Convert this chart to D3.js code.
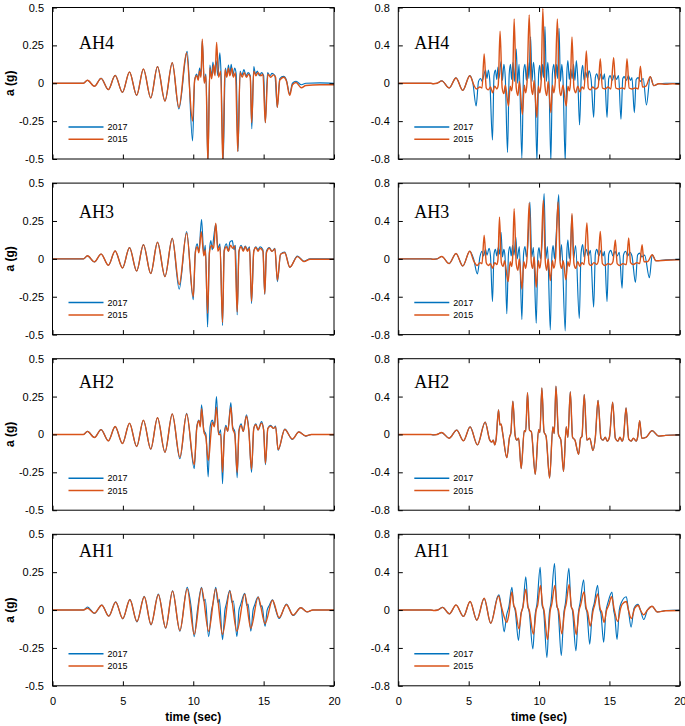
<!DOCTYPE html>
<html><head><meta charset="utf-8">
<script src="https://cdn.jsdelivr.net/npm/d3@7"></script>
<style>
body{margin:0;background:#fff;}
svg{display:block;}
text{fill:#000;}
</style>
</head><body>
<svg id="c" width="685" height="726"></svg>
<script>
// ---------------- DATA ----------------
const timeTicks = [0, 5, 10, 15, 20];
const leftTicks = [-0.5, -0.25, 0, 0.25, 0.5];
const leftTickLabels = ["-0.5", "-0.25", "0", "0.25", "0.5"];
const rightTicks = [-0.8, -0.4, 0, 0.4, 0.8];
const rightTickLabels = ["-0.8", "-0.4", "0", "0.4", "0.8"];
const years = ["2017", "2015"];
const stations = ["AH4", "AH3", "AH2", "AH1"];

// [time (sec), a (g)]
const leftOnset = [[0,0],[2.2,0],[2.48,0.02],[2.98,-0.02],[3.45,0.032],[3.97,-0.042],[4.45,0.052],[4.97,-0.06],[5.47,0.074],[5.98,-0.08],[6.46,0.094],[6.98,-0.097],[7.46,0.11],[7.99,-0.117],[8.51,0.135]];

const ah4Left2017 = leftOnset.concat([[8.98,-0.17],[9.5,0.19],[9.57,0.21],[9.95,-0.38],[10.1,0.02],[10.24,0.06],[10.35,0.03],[10.45,0.1],[10.55,0.05],[10.64,0.28],[10.78,0.01],[10.9,0.06],[11.04,-0.53],[11.18,0.12],[11.3,0.04],[11.4,0.14],[11.5,0.06],[11.62,0.15],[11.75,0.05],[11.89,0.2],[11.98,0.05],[12.12,-0.53],[12.28,0.1],[12.4,0.05],[12.5,0.12],[12.6,0.06],[12.7,0.125],[12.8,0.05],[12.95,0.1],[13.05,0.06],[13.18,-0.45],[13.33,0.08],[13.45,0.05],[13.6,0.09],[13.75,0.05],[13.9,0.07],[14.05,0.05],[14.16,-0.3],[14.3,0.11],[14.42,0.06],[14.55,0.08],[14.7,0.05],[14.85,0.07],[15.0,0.05],[15.12,-0.26],[15.28,0.07],[15.45,0.05],[15.6,0.065],[15.8,0.05],[15.97,-0.16],[16.15,0.03],[16.42,0.045],[16.62,0.02],[16.85,-0.07],[17.05,0.0],[17.3,0.013],[17.68,-0.01],[18.0,0.0],[19.0,0.002],[20,0]]);
const ah4Left2015 = leftOnset.concat([[8.98,-0.16],[9.52,0.2],[9.95,-0.25],[10.1,0.02],[10.24,0.05],[10.35,0.02],[10.45,0.08],[10.55,0.04],[10.64,0.29],[10.78,0.0],[10.9,0.05],[11.04,-0.53],[11.18,0.1],[11.3,0.03],[11.45,0.12],[11.55,0.05],[11.66,0.27],[11.8,0.04],[11.95,0.08],[12.1,-0.53],[12.25,0.09],[12.38,0.04],[12.5,0.1],[12.6,0.05],[12.75,0.1],[12.85,0.04],[13.0,0.07],[13.16,-0.45],[13.33,0.07],[13.48,0.04],[13.62,0.07],[13.78,0.04],[13.93,0.06],[14.05,0.04],[14.15,-0.26],[14.3,0.08],[14.45,0.05],[14.6,0.07],[14.8,0.05],[14.95,0.06],[15.12,-0.26],[15.3,0.06],[15.5,0.04],[15.7,0.055],[15.85,0.04],[15.97,-0.16],[16.15,0.02],[16.42,0.04],[16.62,0.015],[16.85,-0.08],[17.05,-0.01],[17.3,0.005],[17.68,-0.03],[18.0,-0.015],[19.0,-0.01],[20,-0.01]]);

const ah3Left2017 = leftOnset.concat([[9.0,-0.2],[9.53,0.18],[10.0,-0.27],[10.15,0.05],[10.28,0.1],[10.4,0.05],[10.59,0.26],[10.75,0.03],[10.86,0.09],[11.02,-0.45],[11.15,0.05],[11.25,0.12],[11.35,0.06],[11.45,0.14],[11.6,0.23],[11.75,0.07],[11.9,0.1],[12.08,-0.44],[12.2,0.06],[12.35,0.1],[12.5,0.05],[12.6,0.11],[12.77,0.12],[12.9,0.06],[13.0,0.09],[13.12,-0.37],[13.25,0.05],[13.4,0.09],[13.55,0.06],[13.7,0.085],[13.85,0.06],[14.0,0.08],[14.14,-0.295],[14.3,0.05],[14.45,0.08],[14.6,0.06],[14.75,0.08],[14.95,0.06],[15.08,-0.235],[15.2,0.05],[15.4,0.075],[15.6,0.05],[15.8,0.07],[15.98,-0.15],[16.2,0.03],[16.5,0.045],[16.86,-0.055],[17.4,0.018],[17.87,-0.016],[18.3,0],[20,0]]);
const ah3Left2015 = leftOnset.concat([[9.0,-0.17],[9.53,0.17],[10.0,-0.25],[10.15,0.04],[10.28,0.08],[10.4,0.04],[10.57,0.18],[10.75,0.02],[10.86,0.06],[11.02,-0.36],[11.15,0.04],[11.3,0.09],[11.45,0.07],[11.6,0.235],[11.75,0.05],[11.9,0.08],[12.08,-0.42],[12.2,0.05],[12.35,0.08],[12.5,0.05],[12.65,0.09],[12.8,0.07],[12.95,0.085],[13.12,-0.35],[13.25,0.05],[13.4,0.08],[13.55,0.05],[13.7,0.08],[13.85,0.05],[14.0,0.07],[14.14,-0.28],[14.3,0.05],[14.45,0.075],[14.6,0.05],[14.75,0.07],[14.95,0.05],[15.08,-0.23],[15.2,0.04],[15.4,0.07],[15.6,0.05],[15.8,0.065],[15.98,-0.14],[16.2,0.03],[16.5,0.04],[16.86,-0.055],[17.4,0.015],[17.87,-0.018],[18.3,-0.003],[20,-0.003]]);

const ah2Left2017 = leftOnset.concat([[9.05,-0.16],[9.53,0.14],[10.07,-0.225],[10.25,0.05],[10.4,0.095],[10.5,0.06],[10.59,0.195],[10.75,0.03],[10.9,0.0],[11.06,-0.28],[11.2,0.05],[11.35,0.095],[11.5,0.06],[11.65,0.25],[11.8,0.0],[11.95,0.03],[12.08,-0.325],[12.2,0.0],[12.32,0.06],[12.45,0.02],[12.67,0.21],[12.8,0.05],[12.95,0.02],[13.12,-0.285],[13.25,0.03],[13.4,0.07],[13.55,0.02],[13.78,0.13],[13.95,0.03],[14.14,-0.25],[14.3,0.04],[14.45,0.07],[14.6,0.03],[14.85,0.085],[15.0,0.03],[15.13,-0.2],[15.3,0.04],[15.5,0.06],[15.7,0.04],[15.85,0.055],[16.03,-0.105],[16.5,0.035],[17.04,-0.033],[17.5,0.018],[17.99,-0.011],[18.4,0],[20,0]]);
const ah2Left2015 = leftOnset.concat([[9.05,-0.15],[9.53,0.135],[10.07,-0.2],[10.25,0.04],[10.4,0.09],[10.5,0.05],[10.59,0.17],[10.75,0.02],[10.9,-0.02],[11.06,-0.17],[11.15,-0.12],[11.25,0.0],[11.35,0.08],[11.5,0.05],[11.65,0.18],[11.8,0.0],[11.95,0.0],[12.08,-0.25],[12.2,-0.02],[12.32,0.05],[12.45,0.02],[12.67,0.18],[12.8,0.04],[12.95,0.0],[13.12,-0.25],[13.25,0.02],[13.4,0.06],[13.55,0.02],[13.78,0.12],[13.95,0.02],[14.14,-0.23],[14.3,0.04],[14.45,0.065],[14.6,0.03],[14.85,0.075],[15.0,0.03],[15.13,-0.19],[15.3,0.04],[15.5,0.055],[15.7,0.04],[15.85,0.05],[16.03,-0.1],[16.5,0.033],[17.04,-0.03],[17.5,0.016],[17.99,-0.01],[18.4,0],[20,0]]);

const ah1Left2017 = [[0,0],[2.2,0],[2.48,0.02],[2.98,-0.022],[3.5,0.033],[4.0,-0.04],[4.49,0.054],[4.99,-0.058],[5.5,0.07],[6.0,-0.078],[6.52,0.09],[7.0,-0.098],[7.52,0.105],[8.04,-0.12],[8.53,0.127],[9.05,-0.14],[9.57,0.15],[9.85,0.02],[10.07,-0.175],[10.3,0.0],[10.59,0.15],[10.75,0.06],[10.85,0.07],[11.09,-0.175],[11.3,0.0],[11.4,0.04],[11.6,0.15],[11.75,0.05],[11.85,0.07],[12.08,-0.195],[12.25,0.0],[12.35,0.04],[12.6,0.13],[12.75,0.05],[12.85,0.06],[13.1,-0.175],[13.25,0.0],[13.35,0.03],[13.66,0.11],[13.8,0.03],[13.9,0.04],[14.09,-0.14],[14.25,0.0],[14.35,0.03],[14.61,0.087],[14.8,0.02],[14.88,0.03],[15.1,-0.107],[15.25,0.0],[15.4,0.03],[15.63,0.067],[15.8,0.02],[16.1,-0.056],[16.62,0.04],[17.09,-0.036],[17.64,0.016],[18.09,-0.013],[18.5,0],[20,0]];
const ah1Left2015 = [[0,0],[2.2,0],[2.48,0.012],[2.98,-0.02],[3.5,0.032],[4.0,-0.04],[4.49,0.052],[4.99,-0.056],[5.5,0.068],[6.0,-0.076],[6.52,0.088],[7.0,-0.095],[7.52,0.102],[8.04,-0.117],[8.53,0.125],[9.05,-0.135],[9.57,0.14],[10.07,-0.16],[10.59,0.145],[11.09,-0.14],[11.6,0.14],[12.08,-0.16],[12.6,0.125],[13.1,-0.14],[13.66,0.105],[14.09,-0.12],[14.61,0.085],[15.1,-0.09],[15.63,0.065],[16.1,-0.05],[16.62,0.035],[17.09,-0.033],[17.64,0.015],[18.09,-0.012],[18.5,0],[20,0]];

const rightOnset = [[0,0],[2.3,0],[2.49,-0.005],[2.75,0],[3.09,0.025],[3.61,-0.05],[4.1,0.056],[4.58,-0.075],[5.08,0.08]];

const ah4Right2017 = rightOnset.concat([[5.3,0.0],[5.53,-0.24],[5.7,0.02],[5.85,0.05],[5.95,0.02],[6.1,0.1],[6.2,0.14],[6.3,0.05],[6.4,0.14],[6.5,0.03],[6.69,-0.6],[6.8,0.08],[6.9,0.14],[7.0,0.04],[7.08,0.17],[7.15,0.05],[7.3,0.23],[7.4,0.03],[7.5,0.2],[7.6,0.06],[7.76,-0.73],[7.88,0.1],[7.97,0.2],[8.05,0.04],[8.15,0.22],[8.25,0.02],[8.38,0.36],[8.48,0.0],[8.58,0.2],[8.78,-0.79],[8.9,0.12],[9.0,0.2],[9.1,0.03],[9.2,0.22],[9.28,0.05],[9.4,0.49],[9.5,0.02],[9.6,0.22],[9.7,0.05],[9.85,-0.82],[9.97,0.1],[10.05,0.19],[10.15,0.03],[10.25,0.2],[10.32,0.06],[10.42,0.6],[10.52,0.02],[10.62,0.22],[10.7,0.05],[10.84,-0.82],[10.95,0.1],[11.05,0.2],[11.15,0.04],[11.25,0.2],[11.32,0.05],[11.42,0.58],[11.52,0.02],[11.62,0.2],[11.7,0.05],[11.86,-0.82],[11.97,0.1],[12.05,0.24],[12.15,0.04],[12.25,0.15],[12.35,0.05],[12.45,0.2],[12.55,0.03],[12.65,0.24],[12.75,0.05],[12.88,-0.44],[13.0,0.08],[13.1,0.19],[13.2,0.03],[13.3,0.12],[13.45,0.05],[13.55,0.13],[13.7,0.04],[13.88,-0.36],[14.0,0.06],[14.1,0.1],[14.25,0.03],[14.4,0.1],[14.55,0.04],[14.65,0.1],[14.83,-0.36],[14.95,0.05],[15.05,0.08],[15.2,0.03],[15.35,0.09],[15.5,0.04],[15.65,0.08],[15.82,-0.38],[15.95,0.05],[16.05,0.07],[16.2,0.03],[16.35,0.08],[16.5,0.03],[16.6,0.06],[16.77,-0.31],[16.9,0.04],[17.05,0.06],[17.2,0.02],[17.4,0.05],[17.63,-0.23],[17.9,0.07],[18.15,-0.025],[18.5,-0.005],[19,0],[20,0]]);
const ah4Right2015 = rightOnset.concat([[5.4,-0.03],[5.55,-0.06],[5.8,-0.04],[5.95,-0.05],[6.1,0.31],[6.25,-0.05],[6.4,-0.07],[6.55,-0.04],[6.7,-0.1],[6.85,-0.03],[7.0,-0.06],[7.1,-0.02],[7.23,0.55],[7.38,-0.05],[7.5,-0.11],[7.6,-0.02],[7.83,-0.24],[7.95,-0.03],[8.05,-0.08],[8.12,0.0],[8.23,0.68],[8.38,-0.05],[8.5,-0.13],[8.6,0.02],[8.82,-0.33],[8.95,-0.02],[9.05,-0.1],[9.15,0.02],[9.3,0.72],[9.45,-0.04],[9.55,-0.12],[9.65,0.03],[9.84,-0.36],[9.95,-0.03],[10.05,-0.1],[10.15,0.02],[10.27,0.79],[10.42,-0.03],[10.55,-0.13],[10.65,0.02],[10.84,-0.31],[10.95,-0.02],[11.05,-0.1],[11.15,0.01],[11.3,0.68],[11.45,-0.05],[11.55,-0.13],[11.7,-0.02],[11.93,-0.24],[12.05,-0.03],[12.15,-0.08],[12.22,-0.02],[12.34,0.49],[12.48,-0.05],[12.6,-0.1],[12.75,-0.03],[12.9,-0.09],[13.05,-0.04],[13.2,-0.06],[13.36,0.34],[13.5,-0.05],[13.65,-0.07],[13.8,-0.04],[14.0,-0.06],[14.2,-0.04],[14.35,0.26],[14.5,-0.05],[14.7,-0.06],[14.9,-0.04],[15.1,-0.06],[15.3,0.27],[15.45,-0.05],[15.65,-0.06],[15.9,-0.05],[16.1,-0.06],[16.25,0.26],[16.4,-0.05],[16.6,-0.06],[16.85,-0.05],[17.05,-0.06],[17.2,0.18],[17.35,-0.04],[17.6,-0.03],[17.9,0.07],[18.15,-0.025],[18.5,-0.005],[19,-0.01],[19.5,-0.005],[20,-0.01]]);

const ah3Right2017 = rightOnset.concat([[5.35,0.0],[5.62,-0.16],[5.8,0.02],[5.95,0.08],[6.05,0.03],[6.2,0.1],[6.3,0.04],[6.45,0.11],[6.55,0.03],[6.69,-0.45],[6.8,0.05],[6.9,0.1],[7.0,0.03],[7.1,0.12],[7.2,0.05],[7.3,0.28],[7.4,0.02],[7.5,0.1],[7.58,0.03],[7.71,-0.58],[7.83,0.06],[7.93,0.13],[8.02,0.03],[8.12,0.14],[8.22,0.04],[8.35,0.23],[8.45,0.0],[8.6,0.13],[8.78,-0.64],[8.9,0.05],[9.0,0.13],[9.1,0.02],[9.2,0.14],[9.35,0.6],[9.48,0.02],[9.6,0.12],[9.8,-0.68],[9.92,0.05],[10.0,0.12],[10.1,0.0],[10.2,0.14],[10.36,0.69],[10.48,0.0],[10.6,0.13],[10.8,-0.75],[10.92,0.05],[11.0,0.14],[11.1,0.0],[11.2,0.2],[11.4,0.68],[11.5,-0.02],[11.6,0.15],[11.86,-0.76],[11.97,0.05],[12.05,0.2],[12.15,0.0],[12.25,0.16],[12.34,0.46],[12.45,0.0],[12.6,0.14],[12.86,-0.63],[12.98,0.05],[13.1,0.15],[13.2,0.02],[13.35,0.1],[13.5,0.03],[13.65,0.09],[13.88,-0.51],[14.0,0.05],[14.1,0.1],[14.25,0.03],[14.4,0.09],[14.55,0.03],[14.65,0.08],[14.83,-0.45],[14.95,0.05],[15.1,0.09],[15.25,0.03],[15.4,0.08],[15.55,0.03],[15.7,0.07],[15.9,-0.31],[16.0,0.04],[16.15,0.08],[16.3,0.03],[16.45,0.07],[16.6,0.03],[16.85,-0.25],[17.0,0.04],[17.15,0.06],[17.3,0.02],[17.5,0.04],[17.84,-0.2],[18.04,0.043],[18.3,-0.02],[19,-0.01],[20,-0.005]]);
const ah3Right2015 = rightOnset.concat([[5.35,-0.02],[5.6,-0.07],[5.8,-0.04],[5.95,-0.05],[6.1,0.25],[6.25,-0.04],[6.4,-0.07],[6.55,-0.05],[6.7,-0.1],[6.85,-0.04],[7.0,-0.06],[7.08,-0.01],[7.19,0.44],[7.32,-0.04],[7.45,-0.08],[7.55,-0.02],[7.8,-0.24],[7.95,-0.03],[8.05,-0.08],[8.12,0.0],[8.23,0.53],[8.38,-0.05],[8.5,-0.12],[8.6,0.0],[8.78,-0.32],[8.92,-0.03],[9.05,-0.1],[9.15,0.02],[9.3,0.59],[9.45,-0.04],[9.55,-0.1],[9.65,0.02],[9.8,-0.3],[9.95,-0.02],[10.05,-0.1],[10.15,0.02],[10.3,0.62],[10.45,-0.04],[10.55,-0.12],[10.65,0.0],[10.8,-0.23],[10.95,-0.02],[11.05,-0.1],[11.18,0.02],[11.35,0.6],[11.5,-0.04],[11.6,-0.1],[11.72,-0.02],[11.9,-0.22],[12.05,-0.03],[12.15,-0.08],[12.22,-0.01],[12.34,0.48],[12.48,-0.05],[12.6,-0.1],[12.75,-0.03],[12.9,-0.08],[13.05,-0.04],[13.2,-0.06],[13.4,0.38],[13.55,-0.05],[13.7,-0.07],[13.9,-0.04],[14.1,-0.06],[14.2,-0.03],[14.35,0.29],[14.5,-0.05],[14.7,-0.07],[14.9,-0.05],[15.1,-0.06],[15.25,-0.03],[15.42,0.2],[15.55,-0.05],[15.75,-0.07],[15.95,-0.05],[16.2,-0.06],[16.37,0.22],[16.5,-0.04],[16.7,-0.06],[16.95,-0.04],[17.15,-0.05],[17.32,0.15],[17.45,-0.03],[17.7,-0.03],[18.04,0.043],[18.3,-0.02],[19,-0.015],[20,-0.01]]);

// AH2 (right): 2017 and 2015 records coincide in the picture
const ah2Right2015 = [[0,0],[2.3,0],[2.5,-0.005],[2.75,0],[3.08,0.02],[3.61,-0.04],[4.15,0.046],[4.63,-0.067],[5.1,0.08],[5.62,-0.11],[6.17,0.13],[6.5,-0.06],[6.64,-0.08],[6.75,-0.06],[6.85,-0.11],[6.95,-0.05],[7.12,0.26],[7.22,0.1],[7.3,0.11],[7.42,0.01],[7.71,-0.245],[7.9,-0.03],[8.0,0.02],[8.14,0.35],[8.3,-0.01],[8.42,-0.06],[8.55,-0.04],[8.73,-0.36],[8.95,0.04],[9.05,0.03],[9.18,0.44],[9.32,0.045],[9.45,0.03],[9.73,-0.42],[9.97,0.05],[10.06,0.02],[10.2,0.49],[10.35,0.03],[10.5,-0.02],[10.75,-0.46],[10.98,0.08],[11.08,0.01],[11.2,0.51],[11.38,0.0],[11.55,-0.06],[11.74,-0.39],[11.93,0.08],[12.05,-0.03],[12.22,0.45],[12.38,-0.03],[12.55,-0.06],[12.81,-0.21],[12.95,-0.04],[13.05,-0.02],[13.21,0.42],[13.4,-0.06],[13.6,-0.04],[13.83,-0.17],[14.0,-0.03],[14.19,0.36],[14.4,-0.04],[14.55,-0.06],[14.7,-0.03],[14.85,-0.07],[15.0,-0.03],[15.23,0.34],[15.42,-0.04],[15.6,-0.07],[15.75,-0.03],[15.9,-0.07],[16.0,-0.03],[16.18,0.28],[16.37,-0.05],[16.55,-0.07],[16.7,-0.04],[16.9,-0.07],[17.0,-0.03],[17.15,0.145],[17.3,-0.04],[17.6,-0.03],[18.03,0.04],[18.5,-0.018],[19,-0.01],[20,-0.005]];
const ah2Right2017 = ah2Right2015.slice();

const ah1Right2017 = [[0,0],[2.3,0],[2.55,-0.005],[2.8,0],[3.15,0.028],[3.63,-0.04],[4.1,0.053],[4.63,-0.067],[5.1,0.09],[5.58,-0.107],[6.1,0.124],[6.57,-0.14],[7.05,0.14],[7.15,0.16],[7.3,0.05],[7.52,-0.23],[7.7,-0.05],[7.85,0.03],[8.07,0.24],[8.2,0.05],[8.3,0.0],[8.54,-0.32],[8.7,-0.05],[8.85,0.03],[9.06,0.35],[9.2,0.05],[9.3,-0.02],[9.56,-0.41],[9.72,-0.05],[9.85,0.06],[10.08,0.45],[10.22,0.05],[10.32,0.0],[10.56,-0.5],[10.72,-0.05],[10.85,0.08],[11.1,0.49],[11.25,0.05],[11.35,0.0],[11.58,-0.48],[11.75,-0.05],[11.88,0.08],[12.12,0.44],[12.27,0.05],[12.37,0.0],[12.62,-0.43],[12.78,-0.05],[12.92,0.08],[13.17,0.32],[13.3,0.03],[13.4,-0.02],[13.6,-0.36],[13.78,-0.02],[13.92,0.07],[14.16,0.26],[14.3,0.02],[14.4,-0.04],[14.59,-0.34],[14.75,-0.02],[14.9,0.08],[15.18,0.19],[15.3,0.0],[15.38,-0.06],[15.54,-0.31],[15.7,0.0],[15.85,0.08],[16.2,0.14],[16.35,0.0],[16.54,-0.18],[16.75,0.02],[17.03,0.06],[17.2,0.0],[17.44,-0.1],[17.7,0.0],[18.03,0.04],[18.4,-0.02],[19,-0.005],[20,0]];
const ah1Right2015 = [[0,0],[2.3,0],[2.55,-0.005],[2.8,0],[3.15,0.028],[3.63,-0.04],[4.1,0.053],[4.63,-0.067],[5.1,0.09],[5.58,-0.107],[6.1,0.124],[6.57,-0.14],[7.12,0.15],[7.3,0.05],[7.71,-0.13],[7.85,-0.05],[8.07,0.19],[8.2,0.05],[8.3,0.02],[8.58,-0.2],[8.75,-0.02],[8.85,0.03],[9.06,0.22],[9.2,0.04],[9.3,0.0],[9.6,-0.255],[9.8,0.0],[9.9,0.05],[10.1,0.26],[10.25,0.05],[10.35,0.0],[10.6,-0.31],[10.8,0.0],[10.9,0.06],[11.12,0.26],[11.28,0.04],[11.38,0.0],[11.62,-0.25],[11.82,0.0],[11.92,0.06],[12.14,0.27],[12.3,0.03],[12.4,0.0],[12.64,-0.26],[12.85,0.0],[12.95,0.05],[13.19,0.19],[13.35,0.02],[13.45,-0.02],[13.64,-0.17],[13.85,0.0],[13.95,0.05],[14.16,0.17],[14.35,0.01],[14.45,-0.02],[14.62,-0.13],[14.8,0.0],[14.95,0.05],[15.15,0.14],[15.35,0.0],[15.58,-0.12],[15.8,0.02],[15.9,0.06],[16.2,0.09],[16.35,0.0],[16.56,-0.09],[16.8,0.02],[17.05,0.05],[17.2,0.0],[17.44,-0.05],[17.7,0.0],[18.03,0.04],[18.4,-0.02],[19,-0.008],[20,-0.005]];

// ---------------- LAYOUT / STYLE ----------------
const COLORS = {"2017": "#0072BD", "2015": "#D95319"};
const SANS = '"Liberation Sans",Arial,sans-serif';
const SERIF = '"Liberation Serif","Times New Roman",serif';
const colX = [52.5, 398.3];
const rowY = [7.5, 183.1, 358.7, 534.3];
const PW = 281.5, PH = 151.5;
const labelBaseline = [41, 35, 29, 23];

const panels = [
  {row:0, col:0, s:{"2017":ah4Left2017, "2015":ah4Left2015}},
  {row:0, col:1, s:{"2017":ah4Right2017, "2015":ah4Right2015}},
  {row:1, col:0, s:{"2017":ah3Left2017, "2015":ah3Left2015}},
  {row:1, col:1, s:{"2017":ah3Right2017, "2015":ah3Right2015}},
  {row:2, col:0, s:{"2017":ah2Left2017, "2015":ah2Left2015}},
  {row:2, col:1, s:{"2017":ah2Right2017, "2015":ah2Right2015}},
  {row:3, col:0, s:{"2017":ah1Left2017, "2015":ah1Left2015}},
  {row:3, col:1, s:{"2017":ah1Right2017, "2015":ah1Right2015}}
];

const svg = d3.select("#c");
svg.append("rect").attr("width",685).attr("height",726).attr("fill","#fff");

panels.forEach((p, i) => {
  const g = svg.append("g").attr("transform", `translate(${colX[p.col]},${rowY[p.row]})`);
  const x = d3.scaleLinear().domain([0, 20]).range([0, PW]);
  const yTicks = p.col === 0 ? leftTicks : rightTicks;
  const yLabels = p.col === 0 ? leftTickLabels : rightTickLabels;
  const y = d3.scaleLinear().domain([yTicks[0], yTicks[yTicks.length-1]]).range([PH, 0]);

  const cid = "clip" + i;
  g.append("clipPath").attr("id", cid).append("rect").attr("width", PW).attr("height", PH);
  const line = d3.line().x(d => x(d[0])).y(d => y(d[1])).curve(d3.curveMonotoneX);
  const plot = g.append("g").attr("clip-path", `url(#${cid})`);
  years.forEach(yr => {
    plot.append("path").datum(p.s[yr]).attr("d", line)
      .attr("fill", "none").attr("stroke", COLORS[yr])
      .attr("stroke-width", yr === "2017" ? 1.15 : 1.4)
      .attr("stroke-linejoin", "round");
  });

  // axes (inward ticks on all sides)
  const bottom = d3.axisBottom(x).tickValues(timeTicks).tickSizeInner(-4.5).tickSizeOuter(0)
    .tickPadding(11.4).tickFormat(d => p.row === 3 ? String(d) : "");
  const top = d3.axisTop(x).tickValues(timeTicks).tickSizeInner(-4.5).tickSizeOuter(0).tickFormat("");
  const left = d3.axisLeft(y).tickValues(yTicks).tickSizeInner(-4.5).tickSizeOuter(0)
    .tickPadding(8.5).tickFormat((d, j) => yLabels[j]);
  const right = d3.axisRight(y).tickValues(yTicks).tickSizeInner(-4.5).tickSizeOuter(0).tickFormat("");
  [[bottom, `translate(0,${PH})`], [top, null], [left, null], [right, `translate(${PW},0)`]].forEach(([ax, tr]) => {
    const a = g.append("g").call(ax);
    if (tr) a.attr("transform", tr);
    a.select(".domain").remove();
    a.selectAll("line").attr("stroke", "#000");
    a.selectAll("text").style("font-size", "11px").style("fill", "#000").style("font-family", SANS);
  });

  g.append("rect").attr("width", PW).attr("height", PH)
    .attr("fill", "none").attr("stroke", "#000").attr("stroke-width", 1);

  // station label
  g.append("text").attr("x", p.col === 0 ? 26.5 : 16).attr("y", labelBaseline[p.row])
    .style("font-family", SERIF).style("font-size", "18px")
    .text(stations[p.row]);

  // legend
  years.forEach((yr, k) => {
    const ly = PH - 32 + k * 12.3;
    g.append("line").attr("x1", 16).attr("x2", 51).attr("y1", ly).attr("y2", ly)
      .attr("stroke", COLORS[yr]).attr("stroke-width", 1.5);
    g.append("text").attr("x", 55).attr("y", ly).attr("dy", "0.35em")
      .style("font-family", SANS).style("font-size", "9px").text(yr);
  });

  if (p.col === 0) {
    svg.append("text").attr("transform", `translate(13.5,${rowY[p.row] + PH/2}) rotate(-90)`)
      .attr("text-anchor", "middle").style("font-family", SANS).style("font-size", "12px")
      .style("font-weight", "bold").text("a (g)");
  }
  if (p.row === 3) {
    svg.append("text").attr("x", colX[p.col] + PW/2).attr("y", 721)
      .attr("text-anchor", "middle").style("font-family", SANS).style("font-size", "12px")
      .style("font-weight", "bold").text("time (sec)");
  }
});
</script>
</body></html>
